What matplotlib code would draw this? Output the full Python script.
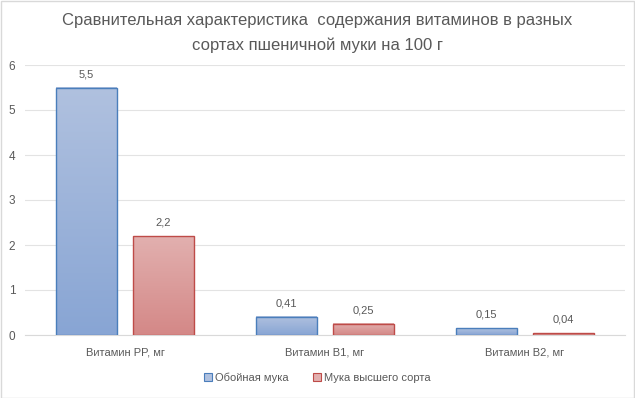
import matplotlib
matplotlib.use("Agg")
import matplotlib.pyplot as plt
import numpy as np
from matplotlib.patches import Rectangle
from matplotlib.colors import LinearSegmentedColormap

plt.rcParams['font.family'] = ['Liberation Sans', 'DejaVu Sans']

categories = ["Витамин PP, мг", "Витамин B1, мг", "Витамин B2, мг"]
series_names = ["Обойная мука", "Мука высшего сорта"]
wholemeal = [5.5, 0.41, 0.15]
premium = [2.2, 0.25, 0.04]
labels_wholemeal = ["5,5", "0,41", "0,15"]
labels_premium = ["2,2", "0,25", "0,04"]
yticks = [0, 1, 2, 3, 4, 5, 6]

W, H = 635, 398
fig = plt.figure(figsize=(W/100, H/100), dpi=100)
fig.patch.set_facecolor("white")
# outer border
fig.add_artist(Rectangle((0.5/W, 0.5/H), 1-1.5/W, 1-1.5/H, transform=fig.transFigure,
                         fill=False, edgecolor="#D9D9D9", lw=1))

ax = fig.add_axes([25/W, 63/H, 600/W, 270/H])
ax.set_xlim(-0.5, 2.5)
ax.set_ylim(0, 6)
ax.set_yticks(yticks)
ax.set_yticklabels([str(t) for t in yticks])
ax.grid(axis='y', color="#E3E3E3", lw=0.8)
ax.set_axisbelow(True)
for s in ["top", "right", "left"]:
    ax.spines[s].set_visible(False)
ax.spines["bottom"].set_color("#D9D9D9")
ax.tick_params(axis='both', length=0, labelsize=8.5, colors="#595959")
ax.tick_params(axis='y', pad=7)
ax.set_xticks(range(len(categories)))
ax.set_xticklabels(categories)
ax.tick_params(axis='x', pad=9, labelsize=8)

bw = 0.305
off = 0.1925
x = np.arange(len(categories))

specs = [
    (wholemeal, labels_wholemeal, -off, "#B0C1DF", "#88A5D4", "#4A7EBB"),
    (premium, labels_premium, off, "#E2B0AF", "#D48887", "#BE4B48"),
]
grad = np.linspace(0, 1, 256).reshape(-1, 1)
handles = []
for vals, labs, o, ctop, cbot, cedge in specs:
    cmap = LinearSegmentedColormap.from_list("g", [cbot, ctop])
    bars = ax.bar(x + o, vals, width=bw, facecolor="none", edgecolor=cedge, lw=1, zorder=3)
    for b in bars:
        bx, by = b.get_x(), b.get_y()
        bwid, bh = b.get_width(), b.get_height()
        ax.imshow(grad, extent=[bx, bx + bwid, by, by + bh], origin="lower", cmap=cmap,
                  aspect="auto", zorder=2)
    for xi, v, l in zip(x + o, vals, labs):
        ax.annotate(l, (xi, v), xytext=(0, 6), textcoords="offset points", ha="center",
                    va="bottom", fontsize=8, color="#595959")
    handles.append(Rectangle((0, 0), 1, 1, facecolor=(ctop), edgecolor=cedge, lw=0.8))
ax.set_xlim(-0.5, 2.5)
ax.set_ylim(0, 6)

fig.legend(handles, series_names, loc="center", bbox_to_anchor=(0.5, 1 - 378/H), ncol=2,
           frameon=False, fontsize=8, labelcolor="#595959", handlelength=0.7, handleheight=0.7,
           handletextpad=0.3, columnspacing=2.2)

fig.text(0.5, 1 - 20/H, "Сравнительная характеристика  содержания витаминов в разных",
         ha="center", va="center", fontsize=12, color="#595959")
fig.text(0.5, 1 - 45/H, "сортах пшеничной муки на 100 г",
         ha="center", va="center", fontsize=12, color="#595959")

fig.savefig("out.png", dpi=100, facecolor="white")
